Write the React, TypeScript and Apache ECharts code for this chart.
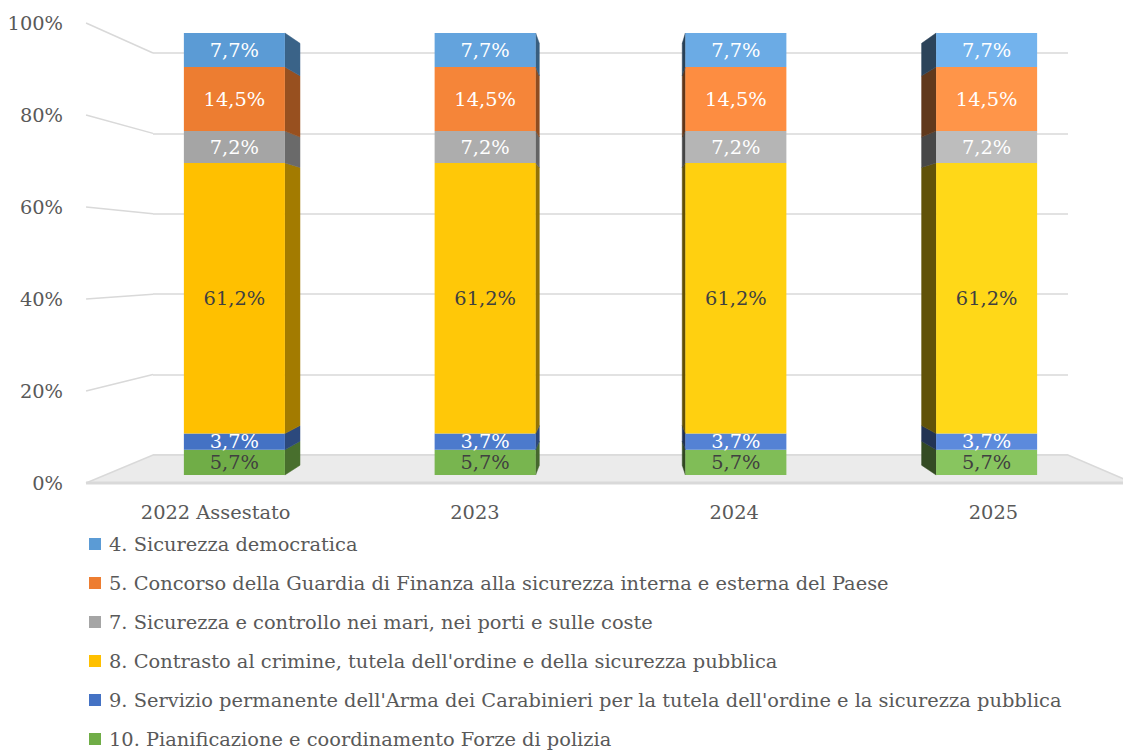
import React, { useEffect, useRef } from "react";
import * as echarts from "echarts";

const categories = ["2022 Assestato", "2023", "2024", "2025"];
const yTicks = [0, 20, 40, 60, 80, 100];

const sicurezza4 = [7.7, 7.7, 7.7, 7.7];
const guardia5 = [14.5, 14.5, 14.5, 14.5];
const mari7 = [7.2, 7.2, 7.2, 7.2];
const crimine8 = [61.2, 61.2, 61.2, 61.2];
const carabinieri9 = [3.7, 3.7, 3.7, 3.7];
const forze10 = [5.7, 5.7, 5.7, 5.7];

const N4 = "4. Sicurezza democratica";
const N5 = "5. Concorso della Guardia di Finanza alla sicurezza interna e esterna del Paese";
const N7 = "7. Sicurezza e controllo nei mari, nei porti e sulle coste";
const N8 = "8. Contrasto al crimine, tutela dell'ordine e della sicurezza pubblica";
const N9 = "9. Servizio permanente dell'Arma dei Carabinieri per la tutela dell'ordine e la sicurezza pubblica";
const N10 = "10. Pianificazione e coordinamento Forze di polizia";

const legendOrder = [N4, N5, N7, N8, N9, N10];

// bottom to top
const stack = [
  { name: N10, data: forze10, color: "#70AD47", label: "#404040" },
  { name: N9, data: carabinieri9, color: "#4472C4", label: "#FFFFFF" },
  { name: N8, data: crimine8, color: "#FFC000", label: "#404040" },
  { name: N7, data: mari7, color: "#A5A5A5", label: "#FFFFFF" },
  { name: N5, data: guardia5, color: "#ED7D31", label: "#FFFFFF" },
  { name: N4, data: sicurezza4, color: "#5B9BD5", label: "#FFFFFF" },
];

const FONT = "DejaVu Serif";
const FS = 19.4;
const TEXT = "#595959";
const GRIDLINE = "#D9D9D9";
const VP = [617, 261];
const WALL_SCALE = 1.1443;
const DEPTH = 0.9545;
const BAR_W = 101;

function hexToRgb(h: string) {
  const n = parseInt(h.slice(1), 16);
  return [(n >> 16) & 255, (n >> 8) & 255, n & 255];
}
function lifted(h: string, i: number) {
  return hexToRgb(h).map((v) => Math.min(255, v + 8 * i));
}
function frontColor(h: string, i: number) {
  const c = lifted(h, i);
  return `rgb(${c[0]},${c[1]},${c[2]})`;
}
function sideColor(h: string, i: number, onRight: boolean) {
  const f = onRight ? 0.64 - 0.06 * i : 0.38;
  const c = lifted(h, i).map((v) => Math.round(v * f));
  return `rgb(${c[0]},${c[1]},${c[2]})`;
}
const fmt = (v: number) => v.toFixed(1).replace(".", ",") + "%";

export default function App() {
  const ref = useRef<HTMLDivElement>(null);
  useEffect(() => {
    if (!ref.current) return;
    const chart = echarts.init(ref.current, null, { renderer: "svg" });

    const sideData: number[][] = [];
    categories.forEach((_, ci) => {
      let acc = 0;
      stack.forEach((s, si) => {
        sideData.push([ci, acc, acc + s.data[ci], si]);
        acc += s.data[ci];
      });
    });

    const barSeries = stack.map((s) => ({
      type: "bar",
      name: s.name,
      stack: "total",
      xAxisIndex: 2,
      yAxisIndex: 2,
      barWidth: BAR_W,
      z: 3,
      itemStyle: { color: s.color },
      data: s.data.map((v, i) => ({ value: v, itemStyle: { color: frontColor(s.color, i) } })),
      label: {
        show: true,
        position: "inside",
        formatter: (p: any) => fmt(p.value),
        color: s.label,
        fontSize: FS,
        fontFamily: FONT,
      },
    }));

    const persp = (p: number[], k: number) => [VP[0] + (p[0] - VP[0]) * k, VP[1] + (p[1] - VP[1]) * k];

    chart.setOption({
      animation: false,
      textStyle: { fontFamily: FONT },
      grid: [
        { left: 86, top: 23, width: 1047, height: 460 },
        { left: 153, top: 53, width: 915, height: 402 },
        { left: 109, top: 33, width: 1003, height: 442 },
      ],
      xAxis: [
        {
          gridIndex: 0,
          type: "category",
          data: categories,
          axisLine: { show: false },
          axisTick: { show: false },
          axisLabel: { fontSize: FS, color: TEXT, fontFamily: FONT, margin: 20 },
        },
        { gridIndex: 1, type: "value", min: 0, max: 1, show: false },
        { gridIndex: 2, type: "category", data: categories, show: false },
      ],
      yAxis: [
        {
          gridIndex: 0,
          type: "value",
          min: 0,
          max: 100,
          interval: 20,
          axisLine: { show: false },
          axisTick: { show: false },
          splitLine: { show: false },
          axisLabel: { fontSize: FS, color: TEXT, fontFamily: FONT, margin: 23, formatter: "{value}%" },
        },
        {
          gridIndex: 1,
          type: "value",
          min: 0,
          max: 100,
          interval: 20,
          axisLine: { show: false },
          axisTick: { show: false },
          axisLabel: { show: false },
          splitLine: { show: true, lineStyle: { color: GRIDLINE, width: 1.5 } },
        },
        { gridIndex: 2, type: "value", min: 0, max: 100, show: false },
      ],
      legend: {
        orient: "vertical",
        left: 84,
        top: 529,
        height: 240,
        itemWidth: 12,
        itemHeight: 12,
        itemGap: 19,
        selectedMode: false,
        textStyle: { fontSize: FS, color: TEXT, fontFamily: FONT, lineHeight: 20, padding: [0, 0, 0, 3] },
        data: legendOrder.map((n) => ({ name: n, icon: "rect" })),
      },
      series: [
        {
          type: "custom",
          name: "walls",
          xAxisIndex: 1,
          yAxisIndex: 1,
          z: 1,
          clip: false,
          silent: true,
          data: yTicks.map((v) => [0, v]),
          encode: { x: 0, y: 1 },
          renderItem: (params: any, api: any) => {
            const v = api.value(1);
            const b = api.coord([0, v]);
            const f = persp(b, WALL_SCALE);
            const children: any[] = [];
            if (v === 0) {
              const br = api.coord([1, 0]);
              const fr = persp(br, WALL_SCALE);
              children.push({
                type: "polygon",
                shape: { points: [b, br, fr, f] },
                style: { fill: "#EBEBEB", stroke: GRIDLINE, lineWidth: 1.5 },
              });
              children.push({
                type: "line",
                shape: { x1: f[0], y1: f[1], x2: fr[0], y2: fr[1] },
                style: { stroke: GRIDLINE, lineWidth: 3 },
              });
            } else {
              children.push({
                type: "line",
                shape: { x1: f[0], y1: f[1], x2: b[0], y2: b[1] },
                style: { stroke: GRIDLINE, lineWidth: 1.5 },
              });
            }
            return { type: "group", children };
          },
        },
        ...barSeries,
        {
          type: "custom",
          name: "sides",
          xAxisIndex: 2,
          yAxisIndex: 2,
          z: 3,
          silent: true,
          data: sideData,
          encode: { x: 0, y: 2 },
          renderItem: (params: any, api: any) => {
            const cat = api.value(0);
            const s = api.value(1);
            const e = api.value(2);
            const si = api.value(3);
            const top = api.coord([cat, e]);
            const bot = api.coord([cat, s]);
            const xc = top[0];
            const onRight = xc < VP[0];
            const ex = onRight ? xc + BAR_W / 2 : xc - BAR_W / 2;
            const pts = [[ex, top[1]], [ex, bot[1]], persp([ex, bot[1]], DEPTH), persp([ex, top[1]], DEPTH)];
            const col = sideColor(stack[si].color, cat, onRight);
            return {
              type: "polygon",
              shape: { points: pts },
              style: { fill: col, stroke: col, lineWidth: 0.5 },
            };
          },
        },
      ],
    });
    return () => chart.dispose();
  }, []);

  return (
    <div
      ref={ref}
      style={{ position: "fixed", left: 0, top: 0, width: 1123, height: 751, background: "#FFFFFF" }}
    />
  );
}
